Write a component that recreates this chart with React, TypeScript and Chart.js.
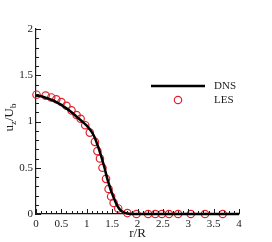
import React, { useEffect, useRef } from "react";
import { Chart, registerables } from "chart.js";

Chart.register(...registerables);

// DNS profile (r/R, u_z/U_b)
const dnsR = [0, 0.1, 0.2, 0.3, 0.4, 0.5, 0.6, 0.7, 0.8, 0.9, 1.0, 1.1, 1.15, 1.2, 1.25, 1.3, 1.35, 1.4, 1.45, 1.5, 1.55, 1.6, 1.65, 1.7, 1.8, 1.9, 2.0, 2.5, 3.0, 3.5, 4.0];
const dnsU = [1.28, 1.272, 1.255, 1.235, 1.21, 1.18, 1.142, 1.1, 1.052, 1.005, 0.955, 0.885, 0.835, 0.765, 0.685, 0.597, 0.5, 0.39, 0.3, 0.22, 0.15, 0.09, 0.05, 0.025, 0.006, 0, 0, 0, 0, 0, 0];

// LES profile
const lesR = [0.01, 0.19, 0.3, 0.4, 0.5, 0.6, 0.7, 0.8, 0.88, 0.97, 1.06, 1.16, 1.21, 1.26, 1.31, 1.38, 1.43, 1.48, 1.53, 1.62, 1.8, 1.98, 2.21, 2.35, 2.48, 2.62, 2.8, 3.05, 3.33, 3.68];
const lesU = [1.29, 1.28, 1.26, 1.24, 1.21, 1.17, 1.12, 1.07, 1.03, 0.96, 0.88, 0.78, 0.68, 0.6, 0.5, 0.38, 0.27, 0.19, 0.12, 0.06, 0.01, 0, 0, 0, 0, 0, 0, 0, 0, 0];

const seriesNames = ["DNS", "LES"];
const xTitle = "r/R";
const xMin = 0, xMax = 4, yMin = 0, yMax = 2;
const minorStep = 0.1;
const majorEvery = 5; // every 0.5

const FONT = "'Liberation Serif', 'Times New Roman', serif";
const INK = "#1a1a1a";
const RED = "#e3212b";

const fmt = (v: number) => {
  const k = Math.round(v * 10);
  if (k % majorEvery !== 0) return "";
  return String(k / 10);
};

const ticksPlugin = {
  id: "inwardTicks",
  afterDatasetsDraw(chart: any) {
    const { ctx, chartArea } = chart;
    const xs = chart.scales.x;
    const ys = chart.scales.y;
    ctx.save();
    ctx.strokeStyle = INK;
    ctx.lineWidth = 1;
    xs.ticks.forEach((t: any) => {
      const major = Math.round(t.value * 10) % majorEvery === 0;
      const px = Math.round(xs.getPixelForValue(t.value)) + 0.5;
      ctx.beginPath();
      ctx.moveTo(px, chartArea.bottom);
      ctx.lineTo(px, chartArea.bottom - (major ? 5 : 3));
      ctx.stroke();
    });
    ys.ticks.forEach((t: any) => {
      const major = Math.round(t.value * 10) % majorEvery === 0;
      const py = Math.round(ys.getPixelForValue(t.value)) + 0.5;
      ctx.beginPath();
      ctx.moveTo(chartArea.left, py);
      ctx.lineTo(chartArea.left + (major ? 5 : 3), py);
      ctx.stroke();
    });
    ctx.restore();
  },
  afterDraw(chart: any) {
    const { ctx, chartArea } = chart;
    // Y axis title with subscripts: u_z/U_b
    const parts: [string, boolean][] = [["u", false], ["z", true], ["/U", false], ["b", true]];
    const big = `13px ${FONT}`;
    const small = `9px ${FONT}`;
    ctx.save();
    ctx.fillStyle = INK;
    let total = 0;
    parts.forEach(([s, sub]) => {
      ctx.font = sub ? small : big;
      total += ctx.measureText(s).width;
    });
    const cy = (chartArea.top + chartArea.bottom) / 2 - 4;
    ctx.translate(10, cy);
    ctx.rotate(-Math.PI / 2);
    ctx.textBaseline = "alphabetic";
    let x = -total / 2;
    parts.forEach(([s, sub]) => {
      ctx.font = sub ? small : big;
      ctx.fillText(s, x, sub ? 5.5 : 3);
      x += ctx.measureText(s).width;
    });
    ctx.restore();

    // Legend
    const ds = chart.data.datasets;
    const lx0 = chartArea.left + 115;
    const lx1 = chartArea.left + 169;
    const ly1 = chartArea.top + 57;
    const ly2 = chartArea.top + 71;
    const tx = chartArea.left + 178;
    ctx.save();
    ctx.strokeStyle = ds[0].borderColor;
    ctx.lineWidth = ds[0].borderWidth;
    ctx.beginPath();
    ctx.moveTo(lx0, ly1);
    ctx.lineTo(lx1, ly1);
    ctx.stroke();
    ctx.strokeStyle = ds[1].pointBorderColor;
    ctx.lineWidth = ds[1].pointBorderWidth;
    ctx.beginPath();
    ctx.arc((lx0 + lx1) / 2, ly2, ds[1].pointRadius, 0, Math.PI * 2);
    ctx.stroke();
    ctx.fillStyle = INK;
    ctx.font = `11px ${FONT}`;
    ctx.textBaseline = "middle";
    ctx.fillText(ds[0].label, tx, ly1 + 0.5);
    ctx.fillText(ds[1].label, tx, ly2 + 0.5);
    ctx.restore();
  },
};

export default function App() {
  const ref = useRef<HTMLCanvasElement>(null);
  useEffect(() => {
    if (!ref.current) return;
    const chart = new Chart(ref.current, {
      type: "scatter",
      data: {
        datasets: [
          {
            label: seriesNames[0],
            type: "line",
            data: dnsR.map((r, i) => ({ x: r, y: dnsU[i] })),
            borderColor: "#000",
            borderWidth: 2.5,
            pointRadius: 0,
            tension: 0.3,
            fill: false,
            clip: false,
          } as any,
          {
            label: seriesNames[1],
            data: lesR.map((r, i) => ({ x: r, y: lesU[i] })),
            pointRadius: 3.7,
            pointBorderColor: RED,
            pointBackgroundColor: "rgba(0,0,0,0)",
            pointBorderWidth: 1.2,
            borderColor: RED,
            backgroundColor: "rgba(0,0,0,0)",
            showLine: false,
            clip: false,
          } as any,
        ],
      },
      options: {
        animation: false,
        responsive: true,
        maintainAspectRatio: false,
        layout: { padding: { top: 29, right: 33, left: 0, bottom: 0 } },
        plugins: { legend: { display: false }, tooltip: { enabled: false } },
        scales: {
          x: {
            type: "linear",
            min: xMin,
            max: xMax,
            afterFit: (s: any) => { s.height = 28; },
            grid: { display: true, drawOnChartArea: false, drawTicks: false },
            border: { display: true, color: INK, width: 1.2 },
            ticks: {
              stepSize: minorStep,
              autoSkip: false,
              maxRotation: 0,
              padding: 4,
              color: INK,
              font: { family: FONT, size: 11 },
              callback: (v: any) => fmt(Number(v)),
            },
            title: {
              display: true,
              text: xTitle,
              color: INK,
              font: { family: FONT, size: 13 },
              padding: { top: 0, bottom: 1 },
            },
          },
          y: {
            type: "linear",
            min: yMin,
            max: yMax,
            afterFit: (s: any) => { s.width = 36; },
            grid: { display: true, drawOnChartArea: false, drawTicks: false },
            border: { display: true, color: INK, width: 1.2 },
            ticks: {
              stepSize: minorStep,
              autoSkip: false,
              padding: 3,
              color: INK,
              font: { family: FONT, size: 11 },
              callback: (v: any) => fmt(Number(v)),
            },
          },
        },
      },
      plugins: [ticksPlugin],
    });
    return () => chart.destroy();
  }, []);
  return (
    <div style={{ position: "fixed", left: 0, top: 0, width: 272, height: 242, background: "#fff" }}>
      <canvas ref={ref} />
    </div>
  );
}
